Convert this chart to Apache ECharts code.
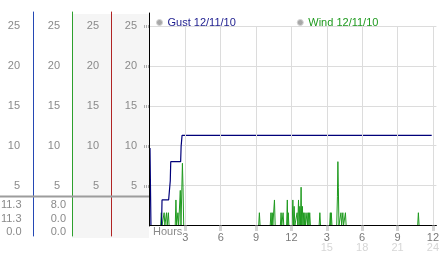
<!DOCTYPE html>
<html><head><meta charset="utf-8">
<script src="https://cdn.jsdelivr.net/npm/echarts@6/dist/echarts.min.js"></script>
<style>html,body{margin:0;padding:0;background:#fff}#c{width:442px;height:253px}</style>
</head><body><div id="c"></div>
<script>
// ---- data ----
const seriesNames = ['Gust 12/11/10', 'Wind 12/11/10'];
const gustHours  = [0, 0.08, 0.98, 1.02, 1.58, 1.72, 1.76, 2.6, 2.64, 2.72, 23.9];
const gustSpeeds = [9.7, 0, 0, 3.2, 3.2, 5.6, 8.0, 8.0, 9.9, 11.3, 11.3];
const windHours = [0, 0.9, 0.96, 1.02, 1.14, 1.2, 1.26, 1.34, 1.4, 1.46, 1.5, 1.56, 1.62,
  2.14, 2.2, 2.26, 2.31, 2.37, 2.43, 2.51, 2.57, 2.63, 2.69, 2.75, 2.8, 2.86,
  9.22, 9.28, 9.34, 10.2, 10.26, 10.31, 10.37, 10.42, 10.5, 10.56, 10.62,
  11.06, 11.12, 11.18, 11.23, 11.29, 11.35, 11.59, 11.65, 11.69, 11.73, 11.78,
  12.06, 12.12, 12.17, 12.23, 12.29, 12.43, 12.48, 12.54, 12.6, 12.65, 12.71, 12.76, 12.82, 12.87, 12.93, 12.98,
  13.04, 13.09, 13.15, 13.2, 13.27, 13.32, 13.38, 13.44, 13.49, 13.55, 13.61,
  14.35, 14.41, 14.47, 15.24, 15.3, 15.34, 15.38, 15.44,
  15.84, 15.9, 15.94, 15.98, 16.03, 16.14, 16.2, 16.26, 16.3, 16.36, 16.42, 16.52, 16.58, 16.64,
  22.71, 22.77, 22.83, 23.9];
const windSpeeds = [0, 0, 1.6, 0, 0, 1.6, 0, 0, 1.6, 0, 0, 1.6, 0,
  0, 3.2, 0, 0, 1.6, 0, 0, 4.4, 0, 0, 7.8, 4.8, 0,
  0, 1.6, 0, 0, 1.6, 0, 1.6, 0, 0, 3.2, 0,
  0, 1.6, 0, 0, 1.6, 0, 0, 3.2, 0, 1.6, 0,
  0, 3.2, 0, 2.4, 0, 0, 1.6, 0, 3.2, 0, 2.4, 0, 4.8, 0, 2.4, 0,
  1.6, 0, 1.6, 0, 0, 1.6, 0, 1.6, 0, 1.6, 0,
  0, 1.6, 0, 0, 1.6, 0, 1.6, 0,
  0, 3.6, 8.0, 4.8, 0, 0, 1.6, 0, 0, 1.6, 0, 0, 1.6, 0,
  0, 1.6, 0, 0];
const hourTicks   = [3, 6, 9, 12, 15, 18, 21, 24];
const hourLabels  = ['3', '6', '9', '12', '3', '6', '9', '12'];
const hourLabels2 = ['', '', '', '', '15', '18', '21', '24'];
const speedTicks  = [5, 10, 15, 20, 25];
const axisTitle = 'Hours';

// ---- chart ----
const FONT = '"Liberation Sans", Arial, sans-serif';
const GREY = '#8a8a8a';
const gustData = gustHours.map((h, i) => [h, gustSpeeds[i]]);
const windData = windHours.map((h, i) => [h, windSpeeds[i]]);
const stat = arr => [Math.max(...arr), arr[arr.length - 1], Math.min(...arr)].map(v => v.toFixed(1));
const gustStats = stat(gustSpeeds);
const windStats = stat(windSpeeds);

const sideAxis = (offset, color, margin) => ({
  gridIndex: 1, type: 'value', position: 'left', offset: offset, min: -1.25, max: 26.75, z: 6,
  axisLine: { show: true, onZero: false, lineStyle: { color: color, width: 1 } },
  axisTick: { show: false },
  splitLine: { show: false },
  axisLabel: { customValues: speedTicks, margin: margin, color: GREY, fontSize: 11, fontFamily: FONT }
});

const statTexts = [];
[gustStats, windStats].forEach((s, c) => {
  s.forEach((t, r) => {
    statTexts.push({ type: 'text', x: c === 0 ? 21.5 : 66, y: [204.5, 218.5, 232][r], z: 10,
      style: { text: t, fill: GREY, font: '11px ' + FONT, textAlign: 'right', textVerticalAlign: 'middle' } });
  });
});

const tickStyle = { color: '#ababab', width: 3, type: [1, 1] };

const chart = echarts.init(document.getElementById('c'));
chart.setOption({
  animation: false,
  backgroundColor: '#fff',
  grid: [
    { left: 150, top: 26, width: 292, height: 200 },
    { left: 149, top: 12, width: 1, height: 224 },
    { left: 149, top: 13, width: 1, height: 213 },
    { left: 72, top: 14, width: 77, height: 224, show: true, backgroundColor: '#f5f5f5', borderWidth: 0, z: -5 }
  ],
  legend: {
    left: 151, top: 12, icon: 'circle', itemWidth: 6, itemHeight: 6, itemGap: 61,
    textStyle: { fontSize: 11, fontFamily: FONT },
    data: [
      { name: seriesNames[0], textStyle: { color: '#1c1c8e' }, itemStyle: { color: '#a8a8a8', borderColor: '#d4d4d4', borderWidth: 1 } },
      { name: seriesNames[1], textStyle: { color: '#1f9a1f' }, itemStyle: { color: '#a8a8a8', borderColor: '#d4d4d4', borderWidth: 1 } }
    ]
  },
  xAxis: [
    { gridIndex: 0, type: 'value', min: 0, max: 24.3, z: 5,
      axisLine: { show: true, lineStyle: { color: '#000', width: 1 } },
      axisTick: { show: true, customValues: hourTicks, length: 5, lineStyle: tickStyle },
      splitLine: { show: true, lineStyle: { color: '#dcdcdc' } },
      axisLabel: { customValues: hourTicks, margin: 7, color: '#7a7a7a', fontSize: 11, fontFamily: FONT, lineHeight: 10,
        formatter: v => { const i = hourTicks.indexOf(v); if (i < 0) return ''; return hourLabels2[i] ? hourLabels[i] + '\n{b|' + hourLabels2[i] + '}' : hourLabels[i]; },
        rich: { b: { color: '#d6d6d6', fontSize: 11, fontFamily: FONT, lineHeight: 10 } } } },
    { gridIndex: 1, type: 'value', show: false },
    { gridIndex: 2, type: 'value', show: false },
    { gridIndex: 3, type: 'value', show: false }
  ],
  yAxis: [
    { gridIndex: 0, type: 'value', min: 0, max: 25, interval: 5,
      axisLine: { show: false }, axisTick: { show: false }, axisLabel: { show: false },
      splitLine: { lineStyle: { color: '#dcdcdc' } } },
    { gridIndex: 2, type: 'value', min: 0, max: 26.625, position: 'left', z: 6,
      axisLine: { show: true, onZero: false, lineStyle: { color: '#000', width: 1 } },
      axisTick: { show: true, customValues: speedTicks, length: 5, lineStyle: tickStyle },
      splitLine: { show: false },
      axisLabel: { customValues: speedTicks, margin: 12, color: GREY, fontSize: 11, fontFamily: FONT } },
    sideAxis(38, '#b02424', 12),
    sideAxis(77, '#2ea02e', 12),
    sideAxis(116, '#2448b4', 13),
    { gridIndex: 3, type: 'value', show: false }
  ],
  graphic: [
    { type: 'line', shape: { x1: 0, y1: 196.5, x2: 149, y2: 196.5 }, style: { stroke: '#9c9c9c', lineWidth: 2 }, z: 10 },
    { type: 'text', x: 153, y: 231.5, z: 10, style: { text: axisTitle, fill: GREY, font: '11px ' + FONT, textAlign: 'left', textVerticalAlign: 'middle' } }
  ].concat(statTexts),
  series: [
    { name: seriesNames[0], type: 'line', xAxisIndex: 0, yAxisIndex: 0, data: gustData, showSymbol: false,
      lineStyle: { color: '#00007a', width: 1.2 }, itemStyle: { color: '#00007a' }, z: 3 },
    { name: seriesNames[1], type: 'line', xAxisIndex: 0, yAxisIndex: 0, data: windData, showSymbol: false,
      lineStyle: { color: '#1f9a1f', width: 1 }, itemStyle: { color: '#1f9a1f' }, z: 2 }
  ]
});
</script>
</body></html>
